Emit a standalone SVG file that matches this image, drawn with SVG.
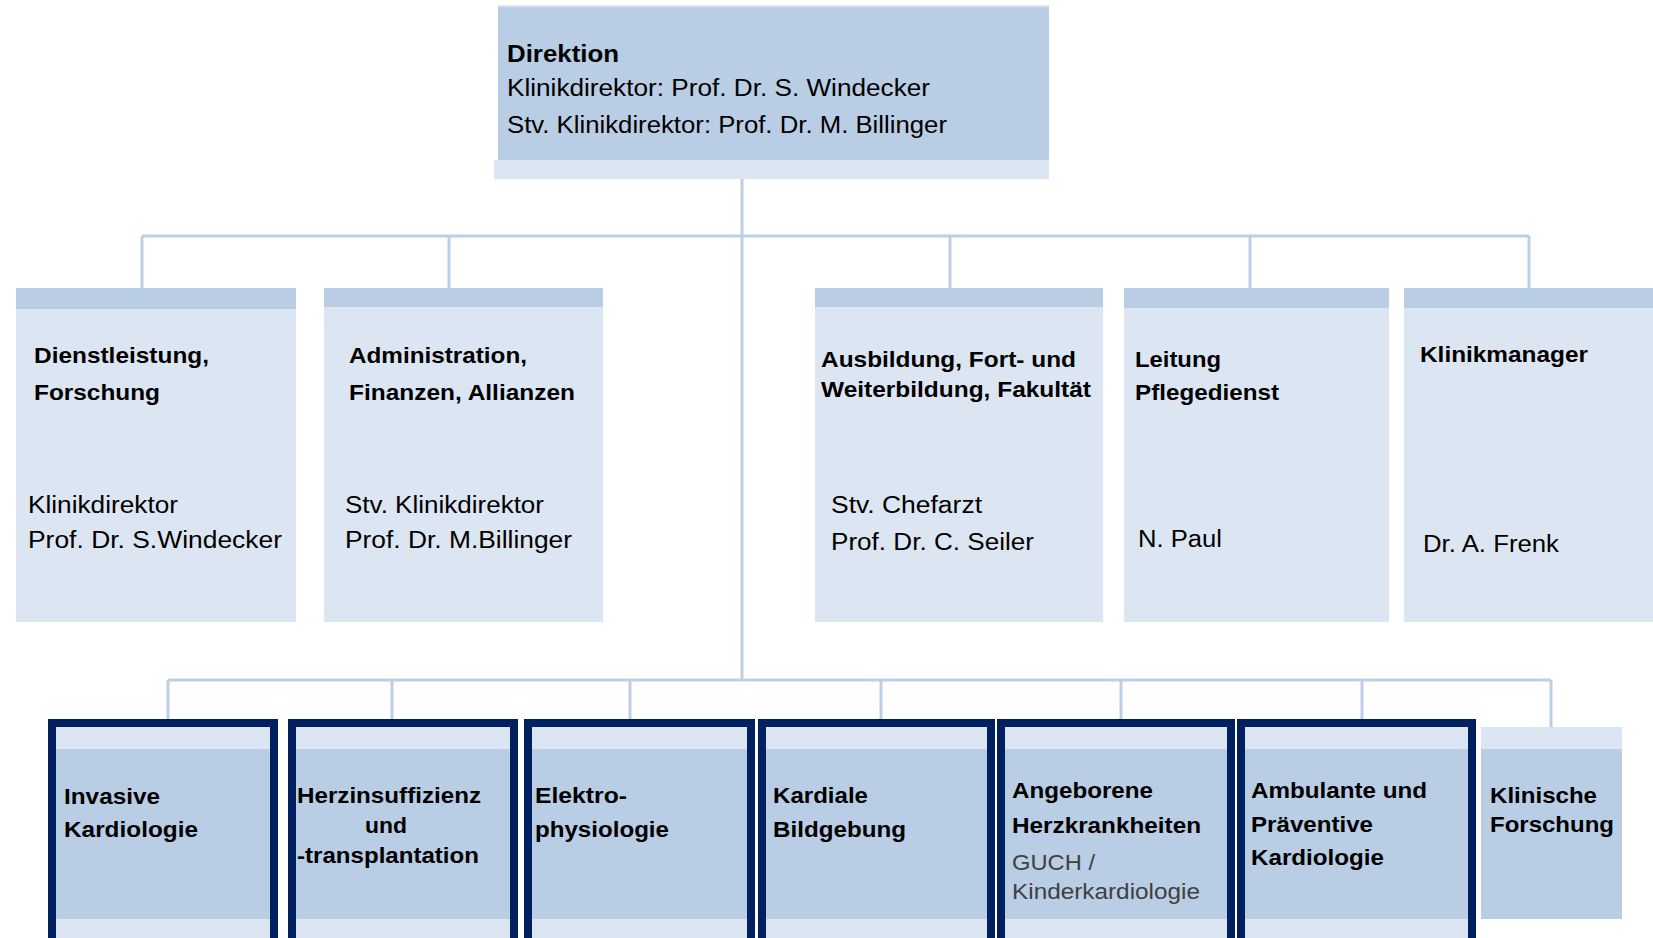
<svg xmlns="http://www.w3.org/2000/svg" width="1653" height="938" viewBox="0 0 1653 938">
<style>
.dk{fill:#b9cde4}
.lt{fill:#dce6f2}
.nv{fill:#00205f}
.con{stroke:#bccfe6;stroke-width:3;fill:none}
text{font-family:"Liberation Sans",Arial,sans-serif;fill:#000}
.t{font-size:23px}
.tb{font-size:23px;font-weight:bold}
.mb{font-size:22px;font-weight:bold}
.mr{font-size:23.5px}
.bb{font-size:22px;font-weight:bold}
.br{font-size:22px;fill:#404040}
</style>
<rect width="1653" height="938" fill="#ffffff"/>
<g id="connectors">
<line class="con" x1="742" y1="179" x2="742" y2="680"/>
<line class="con" x1="142" y1="236" x2="1529" y2="236"/>
<line class="con" x1="142" y1="236" x2="142" y2="288"/>
<line class="con" x1="449" y1="236" x2="449" y2="288"/>
<line class="con" x1="950" y1="236" x2="950" y2="288"/>
<line class="con" x1="1250" y1="236" x2="1250" y2="288"/>
<line class="con" x1="1529" y1="236" x2="1529" y2="288"/>
<line class="con" x1="168" y1="680" x2="1551" y2="680"/>
<line class="con" x1="168" y1="680" x2="168" y2="720"/>
<line class="con" x1="392" y1="680" x2="392" y2="720"/>
<line class="con" x1="630" y1="680" x2="630" y2="720"/>
<line class="con" x1="881" y1="680" x2="881" y2="720"/>
<line class="con" x1="1121" y1="680" x2="1121" y2="720"/>
<line class="con" x1="1362" y1="680" x2="1362" y2="720"/>
<line class="con" x1="1551" y1="680" x2="1551" y2="727"/>
</g>
<g id="direktion">
<rect class="dk" x="498" y="5" width="551" height="155"/>
<rect class="lt" x="498" y="5" width="551" height="2"/>
<rect class="lt" x="494" y="160" width="555" height="19"/>
<text class="tb" x="507" y="62" textLength="112" lengthAdjust="spacingAndGlyphs">Direktion</text>
<text class="t" x="507" y="96" textLength="423" lengthAdjust="spacingAndGlyphs">Klinikdirektor: Prof. Dr. S. Windecker</text>
<text class="t" x="507" y="133" textLength="440" lengthAdjust="spacingAndGlyphs">Stv. Klinikdirektor: Prof. Dr. M. Billinger</text>
</g>
<g id="dienstleistung">
<rect class="lt" x="16" y="288" width="280" height="334"/>
<rect class="dk" x="16" y="288" width="280" height="21"/>
<text class="mb" x="34" y="363" textLength="175" lengthAdjust="spacingAndGlyphs">Dienstleistung,</text>
<text class="mb" x="34" y="400" textLength="126" lengthAdjust="spacingAndGlyphs">Forschung</text>
<text class="mr" x="28" y="513" textLength="150" lengthAdjust="spacingAndGlyphs">Klinikdirektor</text>
<text class="mr" x="28" y="548" textLength="254" lengthAdjust="spacingAndGlyphs">Prof. Dr. S.Windecker</text>
</g>
<g id="administration">
<rect class="lt" x="324" y="288" width="279" height="334"/>
<rect class="dk" x="324" y="288" width="279" height="19"/>
<text class="mb" x="349" y="363" textLength="178" lengthAdjust="spacingAndGlyphs">Administration,</text>
<text class="mb" x="349" y="400" textLength="226" lengthAdjust="spacingAndGlyphs">Finanzen, Allianzen</text>
<text class="mr" x="345" y="513" textLength="199" lengthAdjust="spacingAndGlyphs">Stv. Klinikdirektor</text>
<text class="mr" x="345" y="548" textLength="227" lengthAdjust="spacingAndGlyphs">Prof. Dr. M.Billinger</text>
</g>
<g id="ausbildung">
<rect class="lt" x="815" y="288" width="288" height="334"/>
<rect class="dk" x="815" y="288" width="288" height="19"/>
<text class="mb" x="821" y="367" textLength="255" lengthAdjust="spacingAndGlyphs">Ausbildung, Fort- und</text>
<text class="mb" x="821" y="397" textLength="270" lengthAdjust="spacingAndGlyphs">Weiterbildung, Fakultät</text>
<text class="mr" x="831" y="513" textLength="151" lengthAdjust="spacingAndGlyphs">Stv. Chefarzt</text>
<text class="mr" x="831" y="550" textLength="203" lengthAdjust="spacingAndGlyphs">Prof. Dr. C. Seiler</text>
</g>
<g id="pflegedienst">
<rect class="lt" x="1124" y="288" width="265" height="334"/>
<rect class="dk" x="1124" y="288" width="265" height="20"/>
<text class="mb" x="1135" y="367" textLength="86" lengthAdjust="spacingAndGlyphs">Leitung</text>
<text class="mb" x="1135" y="400" textLength="144" lengthAdjust="spacingAndGlyphs">Pflegedienst</text>
<text class="mr" x="1138" y="547" textLength="84" lengthAdjust="spacingAndGlyphs">N. Paul</text>
</g>
<g id="klinikmanager">
<rect class="lt" x="1404" y="288" width="260" height="334"/>
<rect class="dk" x="1404" y="288" width="260" height="20"/>
<text class="mb" x="1420" y="362" textLength="168" lengthAdjust="spacingAndGlyphs">Klinikmanager</text>
<text class="mr" x="1423" y="552" textLength="136" lengthAdjust="spacingAndGlyphs">Dr. A. Frenk</text>
</g>
<g id="invasive">
<rect class="nv" x="48" y="719" width="230" height="230"/>
<rect class="lt" x="56" y="727" width="214" height="220"/>
<rect class="dk" x="56" y="749" width="214" height="170"/>
<text class="bb" x="64" y="804" textLength="96" lengthAdjust="spacingAndGlyphs">Invasive</text>
<text class="bb" x="64" y="837" textLength="134" lengthAdjust="spacingAndGlyphs">Kardiologie</text>
</g>
<g id="herzinsuffizienz">
<rect class="nv" x="288" y="719" width="230" height="230"/>
<rect class="lt" x="296" y="727" width="214" height="220"/>
<rect class="dk" x="296" y="749" width="214" height="170"/>
<text class="bb" x="297" y="803" textLength="184" lengthAdjust="spacingAndGlyphs">Herzinsuffizienz</text>
<text class="bb" x="365" y="833" textLength="42" lengthAdjust="spacingAndGlyphs">und</text>
<text class="bb" x="297" y="863" textLength="182" lengthAdjust="spacingAndGlyphs">-transplantation</text>
</g>
<g id="elektrophysiologie">
<rect class="nv" x="524" y="719" width="231" height="230"/>
<rect class="lt" x="532" y="727" width="215" height="220"/>
<rect class="dk" x="532" y="749" width="215" height="170"/>
<text class="bb" x="535" y="803" textLength="92" lengthAdjust="spacingAndGlyphs">Elektro-</text>
<text class="bb" x="535" y="837" textLength="134" lengthAdjust="spacingAndGlyphs">physiologie</text>
</g>
<g id="bildgebung">
<rect class="nv" x="758" y="719" width="237" height="230"/>
<rect class="lt" x="766" y="727" width="221" height="220"/>
<rect class="dk" x="766" y="749" width="221" height="170"/>
<text class="bb" x="773" y="803" textLength="95" lengthAdjust="spacingAndGlyphs">Kardiale</text>
<text class="bb" x="773" y="837" textLength="133" lengthAdjust="spacingAndGlyphs">Bildgebung</text>
</g>
<g id="angeborene">
<rect class="nv" x="997" y="719" width="238" height="230"/>
<rect class="lt" x="1005" y="727" width="222" height="220"/>
<rect class="dk" x="1005" y="749" width="222" height="170"/>
<text class="bb" x="1012" y="798" textLength="141" lengthAdjust="spacingAndGlyphs">Angeborene</text>
<text class="bb" x="1012" y="833" textLength="189" lengthAdjust="spacingAndGlyphs">Herzkrankheiten</text>
<text class="br" x="1012" y="870" textLength="83" lengthAdjust="spacingAndGlyphs">GUCH /</text>
<text class="br" x="1012" y="899" textLength="188" lengthAdjust="spacingAndGlyphs">Kinderkardiologie</text>
</g>
<g id="ambulante">
<rect class="nv" x="1237" y="719" width="239" height="230"/>
<rect class="lt" x="1245" y="727" width="223" height="220"/>
<rect class="dk" x="1245" y="749" width="223" height="170"/>
<text class="bb" x="1251" y="798" textLength="176" lengthAdjust="spacingAndGlyphs">Ambulante und</text>
<text class="bb" x="1251" y="832" textLength="122" lengthAdjust="spacingAndGlyphs">Präventive</text>
<text class="bb" x="1251" y="865" textLength="133" lengthAdjust="spacingAndGlyphs">Kardiologie</text>
</g>
<g id="klinische-forschung">
<rect class="lt" x="1481" y="727" width="141" height="22"/>
<rect class="dk" x="1481" y="749" width="141" height="170"/>
<text class="bb" x="1490" y="803" textLength="107" lengthAdjust="spacingAndGlyphs">Klinische</text>
<text class="bb" x="1490" y="832" textLength="124" lengthAdjust="spacingAndGlyphs">Forschung</text>
</g>
</svg>
